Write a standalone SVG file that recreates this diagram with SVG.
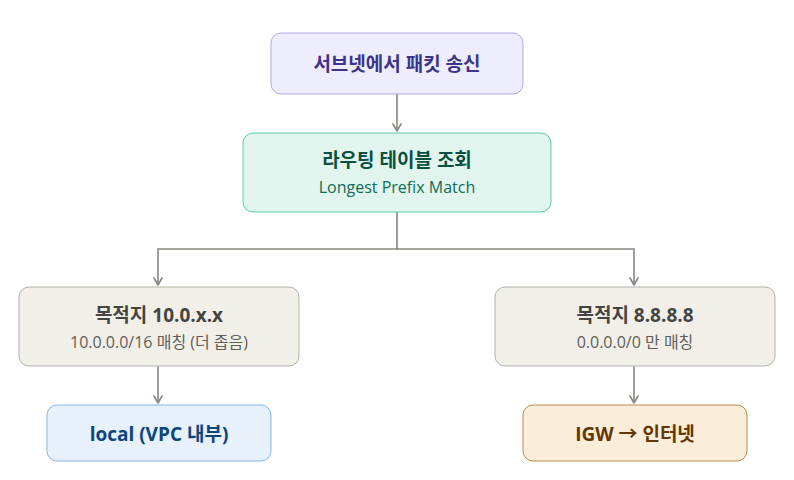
<svg xmlns="http://www.w3.org/2000/svg" width="794" height="480" viewBox="0 0 794 480">
<defs>
<marker id="arr" viewBox="0 0 10 10" refX="8" refY="5" markerWidth="10" markerHeight="10" markerUnits="userSpaceOnUse" orient="auto">
<path d="M1,1 L8,5 L1,9" fill="none" stroke="#888780" stroke-width="1.6" stroke-linecap="round" stroke-linejoin="round"/>
</marker>
<style>
text{font-family:"Open Sans","Noto Sans CJK KR",sans-serif;text-anchor:middle;dominant-baseline:central}
.t{font-size:19px;font-weight:700}
.s{font-size:16px;font-weight:400}
.c{fill:none;stroke:#888780;stroke-width:1.6}
</style>
</defs>
<rect width="794" height="480" fill="#ffffff"/>
<g id="connectors">
<path class="c" d="M397,94 V131" marker-end="url(#arr)"/>
<path class="c" d="M397,212 V249 H158 V285" marker-end="url(#arr)"/>
<path class="c" d="M397,249 H634 V285" marker-end="url(#arr)"/>
<path class="c" d="M158,366 V403" marker-end="url(#arr)"/>
<path class="c" d="M634,366 V403" marker-end="url(#arr)"/>
</g>
<g id="n1">
<rect x="271" y="33" width="252" height="61" rx="10" fill="#eeedfe" stroke="#afa9ec"/>
<text class="t" x="397" y="64" fill="#3c3489">서브넷에서 패킷 송신</text>
</g>
<g id="n2">
<rect x="243" y="133" width="308" height="79" rx="10" fill="#e1f5ee" stroke="#5dcaa5"/>
<text class="t" x="397" y="160" fill="#085041">라우팅 테이블 조회</text>
<text class="s" x="397" y="187" fill="#0f6e56">Longest Prefix Match</text>
</g>
<g id="n3">
<rect x="19" y="287" width="280" height="79" rx="10" fill="#f1efe8" stroke="#b4b2a9"/>
<text class="t" x="159" y="315" fill="#444441">목적지 10.0.x.x</text>
<text class="s" x="159" y="342" fill="#5f5e5a">10.0.0.0/16 매칭 (더 좁음)</text>
</g>
<g id="n4">
<rect x="495" y="287" width="280" height="79" rx="10" fill="#f1efe8" stroke="#b4b2a9"/>
<text class="t" x="635" y="315" fill="#444441">목적지 8.8.8.8</text>
<text class="s" x="635" y="342" fill="#5f5e5a">0.0.0.0/0 만 매칭</text>
</g>
<g id="n5">
<rect x="47" y="405" width="224" height="56" rx="10" fill="#e6f1fb" stroke="#85b7eb"/>
<text class="t" x="159" y="434" fill="#0c447c">local (VPC 내부)</text>
</g>
<g id="n6">
<rect x="523" y="405" width="224" height="56" rx="10" fill="#faeeda" stroke="#ba8c50"/>
<text class="t" x="635" y="434" fill="#633806">IGW → 인터넷</text>
</g>
</svg>
